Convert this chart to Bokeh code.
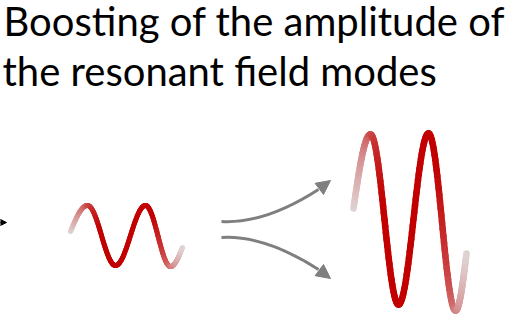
import numpy as np
from bokeh.plotting import figure
from bokeh.models import Range1d, Arrow, NormalHead
from bokeh.core.properties import value
from bokeh.embed import file_html
from bokeh.resources import INLINE

# ---- content (pixel coordinates of the picture) ----
title_lines = ["Boosting of the amplitude of", "the resonant field modes"]
title_x = [3, 2]
title_y = [20, 70]

# extrema of the small (input) wave: start, peak, trough, peak, trough, end
small_x = [70, 87, 115, 145, 170, 182]
small_y = [231, 205, 265, 205, 266, 247]
# extrema of the large (boosted) wave
big_x = [353, 370, 398, 428, 455, 466]
big_y = [208, 134, 304, 133, 310, 253]

# curved grey arrows: start, control 1, control 2, end of curve, head tip
arr_x0 = [221, 221]
arr_y0 = [221, 237]
arr_cx0 = [255, 255]
arr_cy0 = [223, 235]
arr_cx1 = [290, 290]
arr_cy1 = [207, 251]
arr_x1 = [318, 318]
arr_y1 = [189, 269]
arr_tipx = [330, 330]
arr_tipy = [180, 278]

# black arrow entering from the left edge
left_arrow = dict(x0=-30, y0=222, x1=6, y1=222)

LIGHT = np.array([224, 212, 212])
DARK = np.array([194, 0, 0])
GREY = "#7f7f7f"

W, H = 513, 317
p = figure(width=W, height=H, x_range=Range1d(0, W), y_range=Range1d(H, 0),
           output_backend="svg", toolbar_location=None, min_border=0,
           x_axis_location=None, y_axis_location=None)
p.grid.visible = False
p.outline_line_color = None
p.background_fill_color = "white"
p.border_fill_color = "white"


def wave_path(xk, yk, n=40):
    xs, ys = [], []
    m = len(xk) - 1
    for i in range(m):
        s = np.linspace(0, 1, n, endpoint=(i == m - 1))
        x0, x1, y0, y1 = xk[i], xk[i + 1], yk[i], yk[i + 1]
        if i == 0:
            f = np.sin(np.pi / 2 * s)
        elif i == m - 1:
            f = 1 - np.cos(np.pi / 2 * s)
        else:
            f = (1 - np.cos(np.pi * s)) / 2
        xs.append(x0 + (x1 - x0) * s)
        ys.append(y0 + (y1 - y0) * f)
    return np.concatenate(xs), np.concatenate(ys)


def draw_wave(xk, yk, width):
    x, y = wave_path(xk, yk)
    t = (x - x.min()) / (x.max() - x.min())
    segx, segy, cols = [], [], []
    for i in range(len(x) - 1):
        tm = (t[i] + t[i + 1]) / 2
        w = min(1.0, 1.35 * np.sin(np.pi * tm))
        c = (LIGHT + (DARK - LIGHT) * w).astype(int)
        segx.append([x[i], x[i + 1]])
        segy.append([y[i], y[i + 1]])
        cols.append("#%02x%02x%02x" % tuple(c))
    p.multi_line(segx, segy, line_color=cols, line_width=width, line_cap="round", line_join="round")


draw_wave(small_x, small_y, 5)
draw_wave(big_x, big_y, 6.5)

p.bezier(x0=arr_x0, y0=arr_y0, x1=arr_x1, y1=arr_y1, cx0=arr_cx0, cy0=arr_cy0,
         cx1=arr_cx1, cy1=arr_cy1, line_color=GREY, line_width=3)
for i in range(2):
    p.add_layout(Arrow(end=NormalHead(size=14, fill_color=GREY, line_color=GREY, line_width=1),
                       x_start=arr_x1[i], y_start=arr_y1[i], x_end=arr_tipx[i], y_end=arr_tipy[i],
                       line_alpha=0, line_width=0))

p.add_layout(Arrow(end=NormalHead(size=8, fill_color="black", line_color="black"),
                   x_start=left_arrow["x0"], y_start=left_arrow["y0"],
                   x_end=left_arrow["x1"], y_end=left_arrow["y1"], line_color="black", line_width=2))

p.text(x=title_x, y=title_y, text=title_lines, text_font=value("Lato"), text_font_size="40px",
       text_color="black", text_baseline="alphabetic", text_align="left")

open("out.html", "w").write(file_html(p, INLINE))
